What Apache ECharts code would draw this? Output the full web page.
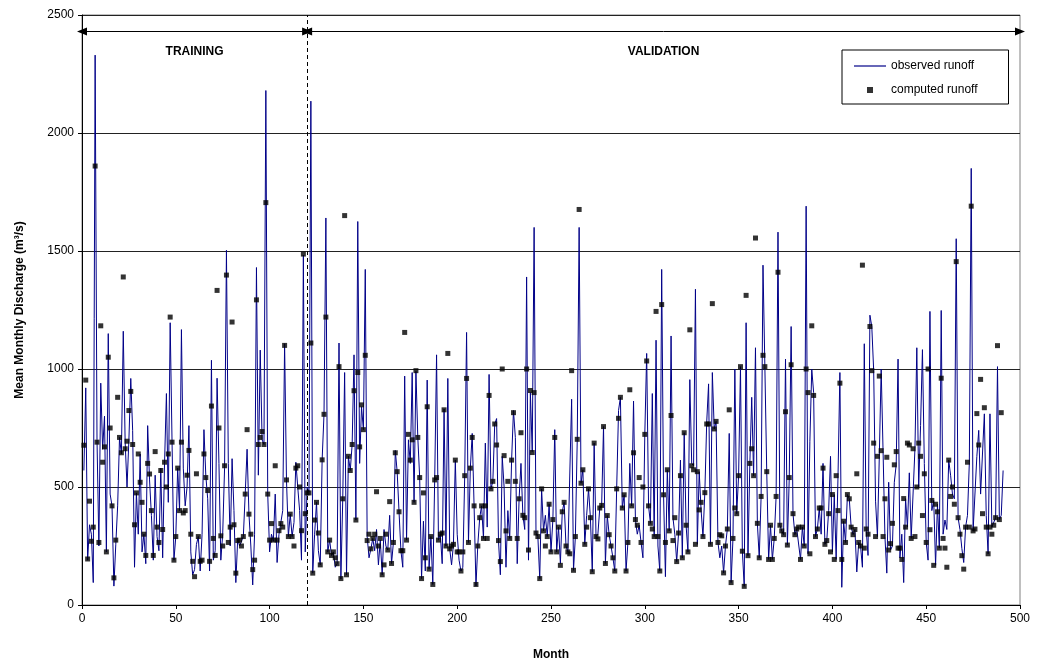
<!DOCTYPE html>
<html>
<head>
<meta charset="utf-8">
<title>Mean Monthly Discharge</title>
<script src="https://cdn.jsdelivr.net/npm/echarts@6/dist/echarts.min.js"></script>
<style>
  html, body { margin: 0; padding: 0; background: #fff; }
  #chart { width: 1038px; height: 666px; }
</style>
</head>
<body>
<div id="chart"></div>
<script>
// observed runoff, months 1..491
var observed = [
  570,920,190,340,300,95,2330,700,250,940,
  660,800,225,1150,470,420,80,255,420,710,
  640,1160,690,500,700,960,740,160,475,300,
  640,225,300,175,760,530,380,190,550,290,
  230,580,200,600,896,435,1196,690,190,290,
  580,400,1167,580,420,500,760,225,128,150,
  257,290,144,300,743,548,450,144,1037,190,
  230,961,600,190,300,580,1503,600,250,620,
  400,95,280,250,250,290,470,660,385,250,
  85,300,1430,550,1080,700,680,2180,470,225,
  300,270,470,180,300,350,400,1107,530,290,
  385,290,350,605,500,400,190,1483,225,500,
  480,2135,135,300,435,230,170,615,808,1640,
  225,275,210,225,160,175,1110,110,450,985,
  128,630,570,680,1060,360,1625,600,840,743,
  1422,290,200,238,282,230,320,170,275,128,
  320,250,233,380,176,265,655,565,395,230,
  160,970,275,700,600,985,435,990,710,540,
  112,355,144,953,152,290,87,530,1060,275,
  300,175,830,250,960,238,170,257,614,300,
  190,144,160,548,1155,265,580,727,420,80,
  257,370,420,282,686,330,977,492,524,767,
  790,273,128,630,500,160,400,282,614,824,
  710,175,450,600,380,320,1390,190,900,650,
  1600,305,290,112,492,314,380,290,427,225,
  362,743,225,330,176,395,435,250,225,217,
  872,147,290,702,1600,516,573,257,380,492,
  370,141,686,290,300,411,422,756,176,379,
  298,250,200,144,492,824,880,411,467,144,
  265,600,420,864,362,300,338,265,200,723,
  1066,420,346,896,290,1122,250,144,1422,467,
  120,573,314,1140,370,300,184,305,614,200,
  730,338,225,955,600,590,1338,257,565,403,
  290,476,775,937,257,985,746,778,265,200,
  250,136,250,322,727,95,282,1000,387,548,
  1010,228,79,1196,209,600,880,548,1090,346,
  200,460,1440,1010,565,193,338,193,282,460,
  1580,338,314,298,1042,254,540,1180,387,298,
  322,330,193,330,250,1690,217,694,1000,900,
  290,322,411,300,600,257,273,400,630,225,
  468,193,548,985,75,355,265,468,450,330,
  298,320,140,265,250,160,1107,322,210,1228,
  1180,993,440,290,630,1000,654,290,135,520,
  233,250,520,594,1042,200,300,95,451,330,
  560,282,290,662,1090,500,760,1082,600,265,
  190,1244,400,443,168,427,241,1248,300,360,
  320,614,550,470,450,1552,370,320,240,180,
  330,380,605,1850,314,322,630,740,470,470,
  810,380,217,810,330,338,370,1010,362,380,
  570
];

// computed runoff, months 1..490
var computed = [
  677,953,195,440,270,330,1860,690,265,1183,
  605,670,225,1050,750,420,115,275,880,710,
  645,1390,662,694,824,905,680,340,475,640,
  520,435,300,210,600,555,400,210,650,330,
  265,570,320,605,500,640,1220,690,190,290,
  580,400,690,390,400,550,655,300,185,120,
  556,290,185,190,640,540,485,185,843,282,
  210,1333,750,293,250,590,1398,265,330,1199,
  340,135,273,275,250,290,470,743,385,300,
  150,190,1293,680,710,735,680,1705,470,275,
  345,275,590,275,315,345,330,1100,530,290,
  385,290,250,580,590,500,315,1487,387,475,
  475,1110,135,360,435,305,170,615,808,1220,
  225,275,210,225,200,175,1010,112,450,1650,
  128,630,570,680,908,360,985,670,848,743,
  1058,273,300,238,282,300,480,250,282,128,
  170,300,233,438,176,265,645,565,395,230,
  230,1155,275,723,614,700,435,993,710,540,
  112,475,200,840,152,290,87,530,540,275,
  300,305,827,250,1066,238,250,257,614,225,
  225,144,225,548,960,265,580,710,420,87,
  250,370,420,282,420,282,888,492,524,767,
  678,273,184,1000,633,314,524,282,614,815,
  524,282,450,730,380,370,1000,233,909,646,
  900,305,290,112,492,314,250,290,427,225,
  362,710,225,330,168,395,435,250,225,217,
  993,147,290,702,1676,516,573,257,330,492,
  370,141,686,290,280,411,422,756,176,379,
  298,250,200,144,492,791,880,411,467,144,
  265,912,420,645,362,338,540,265,500,723,
  1034,420,346,322,290,1244,290,144,1273,467,
  265,573,314,803,273,370,184,305,548,200,
  730,338,225,1166,590,573,257,565,403,435,
  290,476,767,767,257,1277,746,778,265,298,
  293,136,250,322,827,95,282,411,387,548,
  1010,228,79,1312,209,600,662,548,1555,346,
  200,460,1058,1010,565,193,338,193,282,460,
  1410,338,314,298,819,254,540,1018,387,298,
  322,330,193,330,250,1000,900,217,1183,888,
  290,322,411,411,580,257,273,387,225,468,
  193,548,400,940,193,355,265,468,450,330,
  298,320,556,265,250,1440,241,322,300,1180,
  993,686,290,630,970,654,290,450,626,233,
  260,346,594,650,241,241,193,451,330,686,
  678,282,662,290,500,686,630,379,556,265,
  1000,319,443,168,427,395,241,961,282,241,
  160,614,460,500,427,1455,370,300,209,152,
  330,605,330,1690,314,322,811,678,956,387,
  836,330,217,330,300,338,370,1099,362,815
];

var periods = [
  {name: 'TRAINING', from: 0, to: 120},
  {name: 'VALIDATION', from: 120, to: 500}
];
var splitMonth = 120;
var arrowLevel = 2430;

var font = 'Liberation Sans, Arial, sans-serif';

var chart = echarts.init(document.getElementById('chart'));

var observedData = observed.map(function (v, i) { return [i + 1, v]; });
var computedData = computed.map(function (v, i) { return [i + 1, v]; });

var arrowLines = periods.map(function (p) {
  return [
    {coord: [p.from, arrowLevel], label: {formatter: p.name}},
    {coord: [p.to, arrowLevel]}
  ];
});

chart.setOption({
  animation: false,
  textStyle: {fontFamily: font, color: '#000'},
  grid: {
    left: 82, right: 18, top: 15, bottom: 60,
    show: true, borderColor: '#808080', borderWidth: 1
  },
  legend: {
    left: 842, top: 50,
    orient: 'vertical',
    padding: [10, 31, 8, 12],
    itemGap: 12,
    itemWidth: 32,
    itemHeight: 6,
    borderColor: '#000',
    borderWidth: 1,
    backgroundColor: '#fff',
    textStyle: {fontFamily: font, fontSize: 12, color: '#000'},
    data: [
      {name: 'observed runoff', icon: 'path://M0,0h32v1.2h-32z'},
      {name: 'computed runoff', icon: 'path://M0,0h10v10h-10z'}
    ]
  },
  xAxis: {
    type: 'value',
    min: 0, max: 500, interval: 50,
    name: 'Month',
    nameLocation: 'middle',
    nameGap: 44,
    nameTextStyle: {fontFamily: font, fontSize: 12, fontWeight: 'bold', color: '#000'},
    axisLine: {lineStyle: {color: '#000', width: 1}},
    axisTick: {show: true, length: 4, lineStyle: {color: '#000'}},
    axisLabel: {fontFamily: font, fontSize: 12, color: '#000', margin: 8},
    splitLine: {show: false}
  },
  yAxis: {
    type: 'value',
    min: 0, max: 2500, interval: 500,
    name: 'Mean Monthly Discharge (m³/s)',
    nameLocation: 'middle',
    nameGap: 56,
    nameTextStyle: {fontFamily: font, fontSize: 12, fontWeight: 'bold', color: '#000'},
    axisLine: {show: true, lineStyle: {color: '#000', width: 1}},
    axisTick: {show: true, length: 4, lineStyle: {color: '#000'}},
    axisLabel: {
      fontFamily: font, fontSize: 12, color: '#000', margin: 8,
      formatter: function (v) { return String(v); }
    },
    splitLine: {show: true, lineStyle: {color: '#222', width: 1}}
  },
  series: [
    {
      name: 'observed runoff',
      type: 'line',
      data: observedData,
      showSymbol: false,
      symbol: 'none',
      lineStyle: {color: '#000088', width: 1},
      itemStyle: {color: '#000088'},
      z: 2,
      markLine: {
        silent: true,
        symbol: ['triangle', 'triangle'],
        symbolSize: [8, 10],
        lineStyle: {color: '#000', width: 1, type: 'solid'},
        itemStyle: {color: '#000'},
        label: {
          show: true,
          position: 'insideMiddleBottom',
          distance: 14,
          fontFamily: font,
          fontSize: 12,
          fontWeight: 'bold',
          color: '#000'
        },
        data: arrowLines
      }
    },
    {
      name: 'computed runoff',
      type: 'scatter',
      data: computedData,
      symbol: 'rect',
      symbolSize: 5,
      itemStyle: {color: '#000'},
      z: 3,
      markLine: {
        silent: true,
        symbol: 'none',
        lineStyle: {color: '#000', width: 1, type: [4, 3]},
        label: {show: false},
        data: [{xAxis: splitMonth}]
      }
    }
  ]
});
</script>
</body>
</html>
